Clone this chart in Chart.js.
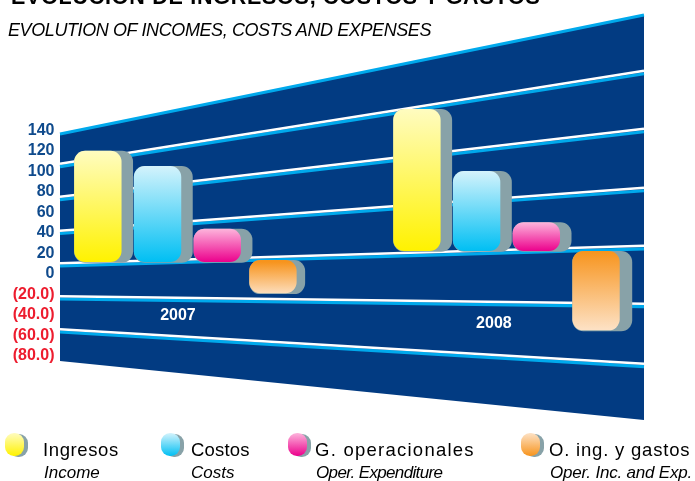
<!DOCTYPE html>
<html><head><meta charset="utf-8">
<style>
html,body{margin:0;padding:0;background:#fff;overflow:hidden}
#wrap{position:relative;width:695px;height:481px;overflow:hidden;font-family:"Liberation Sans",Arial,sans-serif;color:#000}
canvas{position:absolute;left:0;top:0}
.t{position:absolute;white-space:nowrap;line-height:1}
.sw{position:absolute;border-radius:9px}
</style>
<script src="https://cdn.jsdelivr.net/npm/chart.js@4"></script>
</head><body><div id="wrap"><canvas id="c" width="695" height="481"></canvas></div>
<script>
const categories=['2007','2008'];
const ingresos=[108.6,138.5];
const costos=[93.7,78];
const gOperacionales=[32.5,28];
const oIngGastos=[-32.5,-77.4];
const tickValues=[-80,-60,-40,-20,0,20,40,60,80,100,120,140];
// perspective grid, value at left edge and at right edge
const gridStart=[106.3,74.1,41.0,9.3,-22.9,-55.1];
const gridEnd=[197.1,140.5,82.9,26.3,-30.2,-88.7];
const wallTop=[136.6,252.7];
const wallBottom=[-84.9,-142.4];
const groupBaseline=[11.7,22.4];
const yearLabelX=[0.202,0.743];
const yearLabelY=[-41,-48.8];
const seriesNames=['Ingresos','Costos','G. operacionales','O. ing. y gastos'];
const seriesNamesEn=['Income','Costs','Oper. Expenditure','Oper. Inc. and Exp.'];
const seriesGradients=[['#fffcc0','#fff200'],['#d4f3fc','#00bff3'],['#fdb5dc','#ec008c'],['#f7941d','#fde2c6']];
const seriesValues=[ingresos,costos,gOperacionales,oIngGastos];
const NAVY='#023b82',CYAN='#00a9ec',SHADE='#88a2a8';
const depth=[[11.5,11.5],[11.5,11.5],[11.5,11.5],[8.5,12.5]];
const nudge=[[[0,0],[0,0]],[[0,0],[0,0]],[[0,0],[0,0]],[[-4,-2],[0,0]]];

// the lines live on a second x axis; they must not narrow the bar groups
Chart.BarController.prototype._getAxisCount=()=>1;

function shiftFor(chart,i){const y=chart.scales.y;return y.getPixelForValue(groupBaseline[i])-y.getPixelForValue(0);}
function gradient(si){return c=>{
  const chart=c.chart,y=chart.scales.y;if(!y||c.dataIndex===undefined)return seriesGradients[si][0];
  const s=shiftFor(chart,c.dataIndex),a=y.getPixelForValue(0)+s,b=y.getPixelForValue(seriesValues[si][c.dataIndex])+s;
  if(!isFinite(a)||!isFinite(b))return seriesGradients[si][0];
  const g=chart.ctx.createLinearGradient(0,Math.min(a,b),0,Math.max(a,b));
  g.addColorStop(0,seriesGradients[si][0]);g.addColorStop(1,seriesGradients[si][1]);return g;};}

const perspective={id:'perspective',
  afterDatasetsUpdate(chart){
    chart.data.datasets.forEach((d,di)=>{
      if(d.type==='line')return;
      chart.getDatasetMeta(di).data.forEach((el,i)=>{
        const s=shiftFor(chart,i),n=nudge[di][i];
        el.y+=s+n[1];el.base+=s+n[1];el.x+=n[0];
      });
    });
  },
  beforeDatasetDraw(chart,args){
    const d=chart.data.datasets[args.index];if(d.type==='line')return;
    const ctx=chart.ctx;ctx.save();ctx.fillStyle=SHADE;
    args.meta.data.forEach((el,i)=>{
      const t=Math.min(el.y,el.base),h=Math.abs(el.y-el.base);
      ctx.beginPath();ctx.roundRect(el.x-el.width/2,t,el.width+depth[args.index][i],h+0.8,11);ctx.fill();
    });
    ctx.restore();
  },
  afterDatasetsDraw(chart){
    const ctx=chart.ctx,{x2,y}=chart.scales;ctx.save();
    ctx.fillStyle='#fff';ctx.font='bold 16px "Liberation Sans"';ctx.textAlign='center';ctx.textBaseline='middle';
    categories.forEach((c,i)=>ctx.fillText(c,x2.getPixelForValue(yearLabelX[i]),y.getPixelForValue(yearLabelY[i])));
    ctx.restore();
  }};

const seg=(a,b)=>[{x:0,y:a},{x:1,y:b}];
const lineBase={type:'line',xAxisID:'x2',yAxisID:'y',pointRadius:0,fill:false,tension:0};
const datasets=[
  ...seriesValues.map((v,i)=>({label:seriesNames[i],data:v,backgroundColor:gradient(i),borderRadius:11,borderSkipped:false,borderWidth:0,order:0,categoryPercentage:0.7484,barPercentage:0.794})),
];
gridStart.forEach((a,i)=>{
  datasets.push({...lineBase,label:'grid white '+i,data:seg(a+1.2,gridEnd[i]+1.2),borderColor:'#fff',borderWidth:2.5,order:1});
  datasets.push({...lineBase,label:'grid cyan '+i,data:seg(a-1.5,gridEnd[i]-1.7),borderColor:CYAN,borderWidth:3.2,order:2});
});
datasets.push({...lineBase,label:'wall',data:seg(wallTop[0],wallTop[1]),borderColor:CYAN,borderWidth:3,backgroundColor:NAVY,fill:{target:datasets.length+1},order:3});
datasets.push({...lineBase,label:'wall bottom',data:seg(wallBottom[0],wallBottom[1]),borderWidth:0,borderColor:NAVY,order:4});

new Chart(document.getElementById('c'),{
  type:'bar',
  data:{labels:categories,datasets},
  plugins:[perspective],
  options:{responsive:false,animation:false,
    layout:{padding:{left:27.85,right:29,top:10,bottom:56}},
    plugins:{legend:{display:false},tooltip:{enabled:false},title:{display:false}},
    scales:{
      x:{type:'category',display:false},
      x2:{type:'linear',display:false,offset:false,min:-0.05505,max:1.03767},
      y:{type:'linear',position:'left',min:-147.32,max:257.56,
        afterBuildTicks:s=>{s.ticks=tickValues.map(value=>({value}));},
        afterFit:s=>{s.width=0;},
        grid:{display:false,drawTicks:false},border:{display:false},
        ticks:{autoSkip:false,mirror:true,crossAlign:'far',padding:-15.15,font:{family:'"Liberation Sans"',size:16,weight:'bold'},
          color:c=>c.tick.value<0?'#ed1c2e':'#0f4a8c',
          callback:v=>v<0?'('+Math.abs(v).toFixed(1)+')':String(v)}}
    }}
});

// titles and legend
const wrap=document.getElementById('wrap');
function text(str,css){const e=document.createElement('div');e.className='t';e.textContent=str;e.style.cssText=css;wrap.appendChild(e);}
text('EVOLUCIÓN DE INGRESOS, COSTOS Y GASTOS','left:11px;top:-15px;font:bold 21.5px "Liberation Sans";letter-spacing:0.74px');
text('EVOLUTION OF INCOMES, COSTS AND EXPENSES','left:8px;top:20px;font:italic 18px "Liberation Sans";letter-spacing:-0.4px');
const legendX=[5,161,288,521],legendTextX=[43,191,315,549],legendEnX=[44,191,316,550];
const nameSpacing=[0.6,0.2,1.25,0.8],enSpacing=[0,0,-0.65,-0.2];
seriesNames.forEach((n,i)=>{
  const sh=document.createElement('div');sh.className='sw';sh.style.cssText=`left:${legendX[i]+4}px;top:434px;width:19px;height:23px;background:${SHADE}`;wrap.appendChild(sh);
  const f=document.createElement('div');f.className='sw';f.style.cssText=`left:${legendX[i]}px;top:433px;width:19px;height:22.5px;background:linear-gradient(${i==3?'#fde2c6,#f7941d':seriesGradients[i].join(',')})`;wrap.appendChild(f);
  text(n,`left:${legendTextX[i]}px;top:439px;font:18.5px "Liberation Sans";letter-spacing:${nameSpacing[i]}px`);
  text(seriesNamesEn[i],`left:${legendEnX[i]}px;top:463px;font:italic 17px "Liberation Sans";letter-spacing:${enSpacing[i]}px`);
});
</script></body></html>
